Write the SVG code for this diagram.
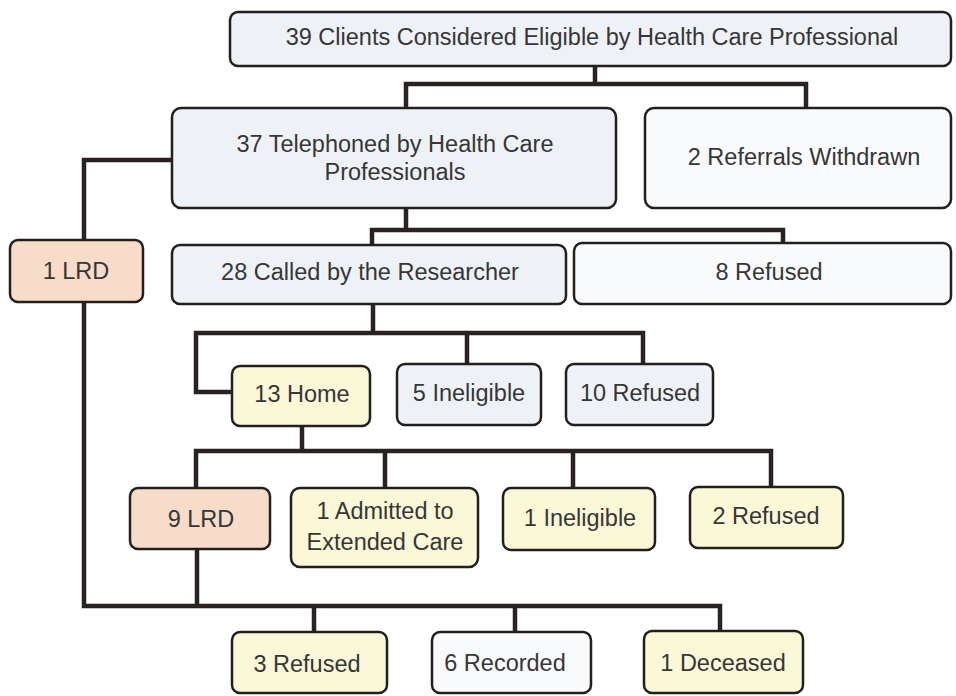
<svg xmlns="http://www.w3.org/2000/svg" width="956" height="696" viewBox="0 0 956 696">
<style>
.box{stroke:#231f1e;stroke-width:2.5}
.blue{fill:#eef2f7}
.yel{fill:#fbf8d8}
.peach{fill:#f8dcca}
.wht{fill:#f9fafc}
.t{font-family:"Liberation Sans",Arial,sans-serif;font-size:23.5px;fill:#363636;text-anchor:middle}
.c{fill:none;stroke:#2a2220;stroke-width:4.5;stroke-linejoin:miter}
</style>
<rect width="956" height="696" fill="#ffffff"/>
<g id="connectors">
<path class="c" d="M595 66V84M406 108V84H806V108"/>
<path class="c" d="M172 160H84V240"/>
<path class="c" d="M406 208V230M372 245V230H783V243"/>
<path class="c" d="M373 304V333M232 392H196V333H643V364M467 333V364"/>
<path class="c" d="M302 426V451M196 488V451H771V487M385 451V488M573 451V488"/>
<path class="c" d="M84 302V606H720V631M197 549V606M314 606V632M515 606V632"/>
</g>
<g id="n1"><rect class="box blue" x="230" y="12" width="721" height="54" rx="8"/><text class="t" x="592" y="45">39 Clients Considered Eligible by Health Care Professional</text></g>
<g id="n2"><rect class="box blue" x="172" y="108" width="444" height="100" rx="9"/><text class="t" x="395" y="152">37 Telephoned by Health Care</text><text class="t" x="395" y="180">Professionals</text></g>
<g id="n3"><rect class="box wht" x="645" y="108" width="306" height="100" rx="9"/><text class="t" x="804" y="165">2 Referrals Withdrawn</text></g>
<g id="n4"><rect class="box peach" x="10" y="240" width="133" height="62" rx="8"/><text class="t" x="76" y="279">1 LRD</text></g>
<g id="n5"><rect class="box blue" x="172" y="245" width="394" height="59" rx="8"/><text class="t" x="370" y="280">28 Called by the Researcher</text></g>
<g id="n6"><rect class="box wht" x="574" y="243" width="377" height="61" rx="8"/><text class="t" x="769" y="280">8 Refused</text></g>
<g id="n7"><rect class="box yel" x="232" y="366" width="138" height="60" rx="8"/><text class="t" x="302" y="402">13 Home</text></g>
<g id="n8"><rect class="box blue" x="397" y="364" width="144" height="61" rx="8"/><text class="t" x="469" y="401">5 Ineligible</text></g>
<g id="n9"><rect class="box blue" x="566" y="364" width="147" height="61" rx="8"/><text class="t" x="640" y="401">10 Refused</text></g>
<g id="n10"><rect class="box peach" x="130" y="488" width="140" height="61" rx="8"/><text class="t" x="201" y="527">9 LRD</text></g>
<g id="n11"><rect class="box yel" x="291" y="488" width="187" height="79" rx="9"/><text class="t" x="385" y="519">1 Admitted to</text><text class="t" x="385" y="550">Extended Care</text></g>
<g id="n12"><rect class="box yel" x="503" y="488" width="152" height="62" rx="8"/><text class="t" x="580" y="526">1 Ineligible</text></g>
<g id="n13"><rect class="box yel" x="690" y="487" width="153" height="61" rx="8"/><text class="t" x="766" y="524">2 Refused</text></g>
<g id="n14"><rect class="box yel" x="232" y="632" width="155" height="61" rx="8"/><text class="t" x="307" y="672">3 Refused</text></g>
<g id="n15"><rect class="box wht" x="432" y="632" width="159" height="61" rx="8"/><text class="t" x="505" y="671">6 Recorded</text></g>
<g id="n16"><rect class="box yel" x="644" y="631" width="159" height="62" rx="8"/><text class="t" x="723" y="671">1 Deceased</text></g>
</svg>
